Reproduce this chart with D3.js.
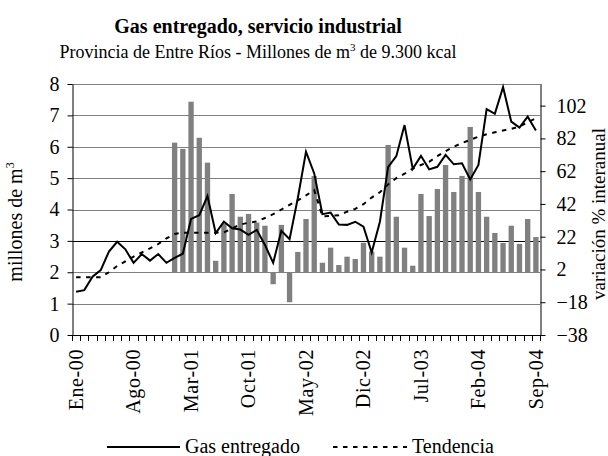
<!DOCTYPE html>
<html>
<head>
<meta charset="utf-8">
<script src="https://cdn.jsdelivr.net/npm/d3@7"></script>
<style>
    body { margin: 0; background: #fff; }
    svg text { font-family: "Liberation Serif", "Times New Roman", serif; fill: #000; }
</style>
</head>
<body>
<svg id="chart" width="608" height="456"></svg>
<script>
const MONTHS = [
    "Ene-00", "Feb-00", "Mar-00", "Abr-00", "May-00", "Jun-00", "Jul-00", "Ago-00", "Sep-00", "Oct-00", "Nov-00", "Dic-00",
    "Ene-01", "Feb-01", "Mar-01", "Abr-01", "May-01", "Jun-01", "Jul-01", "Ago-01", "Sep-01", "Oct-01", "Nov-01", "Dic-01",
    "Ene-02", "Feb-02", "Mar-02", "Abr-02", "May-02", "Jun-02", "Jul-02", "Ago-02", "Sep-02", "Oct-02", "Nov-02", "Dic-02",
    "Ene-03", "Feb-03", "Mar-03", "Abr-03", "May-03", "Jun-03", "Jul-03", "Ago-03", "Sep-03", "Oct-03", "Nov-03", "Dic-03",
    "Ene-04", "Feb-04", "Mar-04", "Abr-04", "May-04", "Jun-04", "Jul-04", "Ago-04", "Sep-04"
];

// millones de m3
const GAS = [
    1.38, 1.43, 1.86, 2.07, 2.66, 2.97, 2.73, 2.30, 2.58, 2.37, 2.58, 2.30,
    2.46, 2.59, 3.70, 3.82, 4.43, 3.25, 3.61, 3.40, 3.36, 3.19, 3.35, 2.87,
    2.30, 3.32, 3.05, 4.36, 5.84, 5.15, 3.85, 3.90, 3.52, 3.51, 3.61, 3.45,
    2.63, 3.61, 5.35, 5.70, 6.69, 5.30, 5.71, 5.28, 5.36, 5.74, 5.44, 5.47,
    4.96, 5.42, 7.20, 7.05, 7.90, 6.80, 6.61, 6.96, 6.52
];

const TREND = [
    1.84, 1.84, 1.84, 1.84, 2.00, 2.20, 2.35, 2.50, 2.63, 2.76, 2.90, 3.08,
    3.22, 3.26, 3.26, 3.26, 3.26, 3.26, 3.27, 3.40, 3.52, 3.58, 3.62, 3.73,
    3.85, 4.00, 4.15, 4.29, 4.45, 4.62, 3.78, 3.80, 3.82, 3.93, 4.02, 4.17,
    4.38, 4.55, 4.80, 5.00, 5.14, 5.30, 5.42, 5.52, 5.70, 5.86, 6.00, 6.12,
    6.22, 6.32, 6.40, 6.46, 6.52, 6.57, 6.64, 6.78, 6.91
];

// variación % interanual (sin dato el primer año)
const VARIATION = [
    null, null, null, null, null, null, null, null, null, null, null, null,
    79.4, 75.6, 104.4, 82.4, 67.2, 7.3, 30.0, 48.1, 34.2, 35.9, 30.6, 28.7,
    -7.0, 29.2, -18.0, 12.7, 32.8, 59.0, 6.1, 15.3, 4.7, 9.8, 8.4, 18.3,
    12.9, 9.8, 78.0, 34.2, 15.3, 4.3, 48.1, 34.6, 51.1, 65.8, 49.3, 59.1,
    89.0, 49.3, 34.2, 24.3, 18.2, 28.7, 17.6, 32.8, 21.8
];

const X_TICK_LABELS = ["Ene-00", "Ago-00", "Mar-01", "Oct-01", "May-02", "Dic-02", "Jul-03", "Feb-04", "Sep-04"];
const LEFT_TICKS = [0, 1, 2, 3, 4, 5, 6, 7, 8];
const RIGHT_TICKS = [-38, -18, 2, 22, 42, 62, 82, 102];
const LEGEND_LABELS = ["Gas entregado", "Tendencia"];

const svg = d3.select("#chart");

const plotLeft = 72;
const plotRight = 540;
const plotTop = 84;
const plotBottom = 335;

// Scales
const pad = 0.35;
const xScale = d3.scaleBand()
    .domain(MONTHS)
    .range([plotLeft, plotRight])
    .paddingInner(pad)
    .paddingOuter(pad / 2);
const step = xScale.step();
const center = (m) => xScale(m) + xScale.bandwidth() / 2;

const yLeft = d3.scaleLinear().domain([0, 8]).range([plotBottom, plotTop]);
const yRight = d3.scaleLinear().domain([-38, 115.2]).range([plotBottom, plotTop]);

// Gridlines
svg.append("g")
    .selectAll("line")
    .data(LEFT_TICKS.filter((v) => v > 0))
    .enter().append("line")
    .attr("x1", plotLeft)
    .attr("x2", plotRight)
    .attr("y1", (v) => Math.round(yLeft(v)) + 0.5)
    .attr("y2", (v) => Math.round(yLeft(v)) + 0.5)
    .attr("stroke", (v) => v == 3 ? "#000" : "#808080")
    .attr("stroke-width", 1);

// Bars
const barData = MONTHS.map((m, i) => ({ month: m, value: VARIATION[i] }))
    .filter((d) => d.value !== null);

svg.append("g")
    .selectAll("rect")
    .data(barData)
    .enter().append("rect")
    .attr("x", (d) => xScale(d.month))
    .attr("width", xScale.bandwidth())
    .attr("y", (d) => Math.min(yRight(d.value), yRight(0)))
    .attr("height", (d) => Math.abs(yRight(d.value) - yRight(0)))
    .attr("fill", "#808080");

// Lines
const lineFor = (values) => d3.line()
    .x((d, i) => center(MONTHS[i]))
    .y((d) => yLeft(d))(values);

svg.append("path")
    .attr("d", lineFor(TREND))
    .attr("fill", "none")
    .attr("stroke", "#000")
    .attr("stroke-width", 2)
    .attr("stroke-dasharray", "4.5,5.5");

svg.append("path")
    .attr("d", lineFor(GAS))
    .attr("fill", "none")
    .attr("stroke", "#000")
    .attr("stroke-width", 2)
    .attr("stroke-linejoin", "miter");

// Left axis
const leftAxis = svg.append("g")
    .attr("transform", "translate(" + (plotLeft + 0.5) + ",0)")
    .call(d3.axisLeft(yLeft).tickValues(LEFT_TICKS).tickSize(5).tickSizeOuter(0).tickPadding(8));

// Right axis
const rightAxis = svg.append("g")
    .attr("transform", "translate(" + (plotRight + 0.5) + ",0)")
    .call(d3.axisRight(yRight).tickValues(RIGHT_TICKS).tickSize(5).tickSizeOuter(0).tickPadding(11));

[leftAxis, rightAxis].forEach((axis) => {
    axis.attr("font-family", null).attr("font-size", null);
    axis.selectAll("text").style("font-size", "20px");
});
rightAxis.select(".domain").attr("d", "M0.5," + plotTop + "V" + plotBottom);

// Bottom axis: a tick at every month boundary, a label every 7 months
const bottom = svg.append("g");
bottom.append("line")
    .attr("x1", plotLeft)
    .attr("x2", plotRight + 1)
    .attr("y1", plotBottom + 0.5)
    .attr("y2", plotBottom + 0.5)
    .attr("stroke", "#000");

const boundaries = MONTHS.map((m) => xScale(m) - (step - xScale.bandwidth()) / 2);
boundaries.push(plotRight);

bottom.selectAll(".month-tick")
    .data(boundaries)
    .enter().append("line")
    .classed("month-tick", true)
    .attr("x1", (x) => Math.round(x) + 0.5)
    .attr("x2", (x) => Math.round(x) + 0.5)
    .attr("y1", plotBottom)
    .attr("y2", plotBottom + 6)
    .attr("stroke", "#000");

bottom.selectAll(".month-label")
    .data(X_TICK_LABELS)
    .enter().append("text")
    .classed("month-label", true)
    .attr("transform", (m) => "translate(" + center(m) + "," + (plotBottom + 14) + ") rotate(-90)")
    .attr("text-anchor", "end")
    .attr("dy", "0.33em")
    .style("font-size", "20px")
    .style("letter-spacing", "0.6px")
    .text((m) => m);

// Titles
svg.append("text")
    .attr("x", 258)
    .attr("y", 33)
    .attr("text-anchor", "middle")
    .style("font-size", "20px")
    .style("font-weight", "bold")
    .text("Gas entregado, servicio industrial");

const subtitle = svg.append("text")
    .attr("x", 258)
    .attr("y", 58)
    .attr("text-anchor", "middle")
    .style("font-size", "18px");
subtitle.append("tspan").text("Provincia de Entre Ríos - Millones de m");
subtitle.append("tspan").attr("dy", "-7").style("font-size", "11px").text("3");
subtitle.append("tspan").attr("dy", "7").text(" de 9.300 kcal");

const leftTitle = svg.append("text")
    .attr("transform", "translate(22,222) rotate(-90)")
    .attr("text-anchor", "middle")
    .style("font-size", "20px");
leftTitle.append("tspan").text("millones de m");
leftTitle.append("tspan").attr("dy", "-8").style("font-size", "12px").text("3");

svg.append("text")
    .attr("transform", "translate(605,214) rotate(-90)")
    .attr("text-anchor", "middle")
    .style("font-size", "19px")
    .text("variación % interanual");

// Legend
const legend = svg.append("g");
const legendItems = [
    { label: LEGEND_LABELS[0], x1: 107, x2: 180, dash: null },
    { label: LEGEND_LABELS[1], x1: 333, x2: 407, dash: "4.5,5.5" }
];
legendItems.forEach((item) => {
    legend.append("line")
        .attr("x1", item.x1)
        .attr("x2", item.x2)
        .attr("y1", 447)
        .attr("y2", 447)
        .attr("stroke", "#000")
        .attr("stroke-width", 2)
        .attr("stroke-dasharray", item.dash);
    legend.append("text")
        .attr("x", item.x2 + 5)
        .attr("y", 453)
        .style("font-size", "20px")
        .text(item.label);
});
</script>
</body>
</html>
